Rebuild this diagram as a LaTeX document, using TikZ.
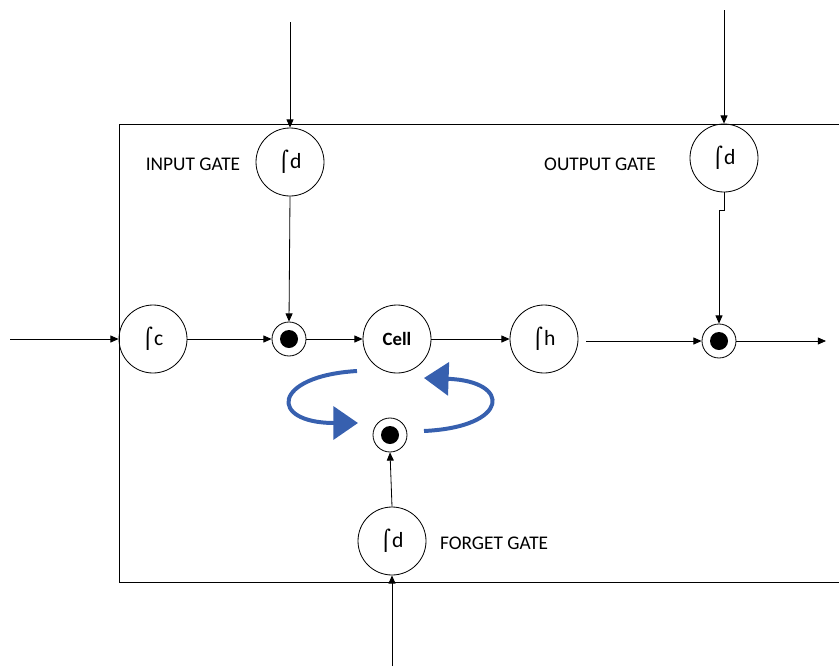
\documentclass[tikz,border=0pt]{standalone}
\usepackage{fontspec}
\setmainfont{Carlito}
\newfontfamily\symf{DejaVu Sans}
\usetikzlibrary{arrows.meta}
\definecolor{arrblue}{RGB}{55,96,175}
\newcommand{\intl}[1]{{\symf\fontsize{17}{17}\selectfont ⌠}\kern1pt{\fontsize{18.5}{18}\selectfont #1}}
\tikzset{
  gatec/.style={circle,draw,line width=0.7pt,minimum size=2.04cm,inner sep=0pt},
  dotc/.style={circle,draw,line width=0.7pt,minimum size=1.02cm,inner sep=0pt},
  conn/.style={line width=0.7pt,-{Triangle[length=7pt,width=6pt]}},
  plain/.style={line width=0.7pt},
  lbl/.style={font=\fontsize{16.5}{17}\selectfont},
  bluearr/.style={arrblue,line width=3.4pt,-{Triangle[length=21pt,width=28pt]}}
}
\begin{document}
\begin{tikzpicture}[x=0.03cm,y=-0.03cm]
\useasboundingbox (0,0) rectangle (839,666);
% outer box
\draw[plain] (839,124) -- (119,124) -- (119,582) -- (839,582);
% nodes
\node[gatec] (ig) at (290,162) {\intl{d}};
\node[gatec] (og) at (724,158) {\intl{d}};
\node[gatec] (c) at (153,339) {\intl{c}};
\node[gatec] (cell) at (397,339) {\fontsize{16}{16}\selectfont\bfseries Cell};
\node[gatec] (h) at (544,339) {\intl{h}};
\node[gatec] (fg) at (392,541) {\intl{d}};
\node[dotc] (d1) at (289,339) {};
\node[dotc] (d2) at (719,341) {};
\node[dotc] (d3) at (390,435) {};
\foreach \d in {d1,d2,d3} \fill (\d.center) circle (9);
% free ends
\coordinate (inL) at (10,339);
\coordinate (outR) at (826,341);
\coordinate (igT) at (290,22);
\coordinate (ogT) at (724,10);
\coordinate (fgB) at (392,666);
\coordinate (hR) at (586,341);
% labels
\node[lbl] (lin) at (193,164) {INPUT GATE};
\node[lbl] (lout) at (600,164) {OUTPUT GATE};
\node[lbl,anchor=west] (lfg) at (436,543) {FORGET GATE};
% connectors
\draw[conn] (inL) -- (c.west);
\draw[conn] (c.east) -- (d1.west);
\draw[conn] (d1.east) -- (cell.west);
\draw[conn] (cell.east) -- (h.west);
\draw[conn] (hR) -- (d2.west);
\draw[conn] (d2.east) -- (outR);
\draw[conn] (igT) -- (ig.north);
\draw[conn] (ig.south) -- (d1.north);
\draw[conn] (ogT) -- (og.north);
\draw[conn] (og.south) -- ++(0,18) -| (d2.north);
\draw[conn] (fg.north) -- (d3.south);
\draw[conn] (fgB) -- (fg.south);
% blue circular arrows
\draw[bluearr] (357,371) .. controls (272,376) and (268,423) .. (358,423);
\draw[bluearr] (424,431) .. controls (510,427) and (512,381) .. (424,378);
\end{tikzpicture}
\end{document}
